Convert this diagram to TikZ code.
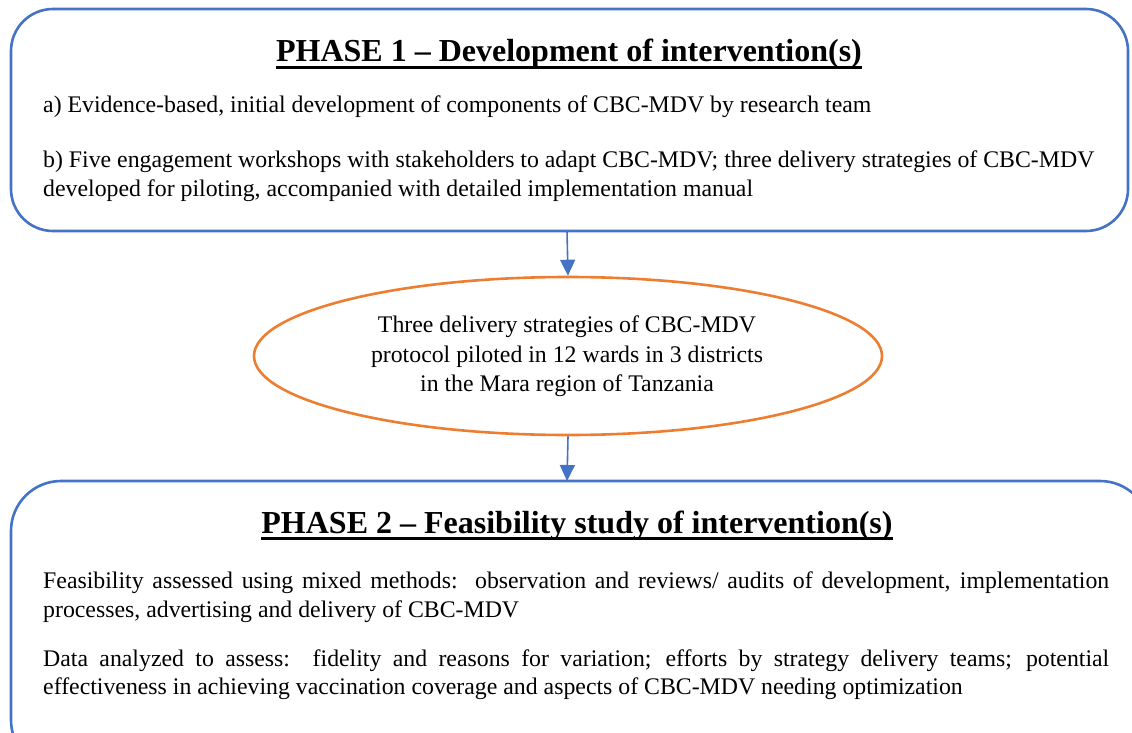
\documentclass[tikz,border=0pt]{standalone}
\usepackage{fontspec}
\setmainfont{Liberation Serif}
\usetikzlibrary{shapes.geometric,arrows.meta}
\definecolor{boxblue}{HTML}{4472C4}
\definecolor{ellorange}{HTML}{ED7D31}
\newcommand{\jline}[1]{\makebox[1066pt][s]{#1}}
\tikzset{
  phasebox/.style={draw=boxblue, line width=2.6pt, rounded corners=42pt},
  titletext/.style={inner sep=0pt, anchor=base, font=\fontsize{32}{38}\selectfont\bfseries},
  bodytext/.style={inner sep=0pt, anchor=base west, font=\fontsize{23.8}{28.5}\selectfont},
  elltext/.style={inner sep=0pt, anchor=base, font=\fontsize{23.8}{28.5}\selectfont},
  flowarrow/.style={draw=boxblue, line width=1.6pt, -{Triangle[length=16pt,width=15pt]}},
  uline/.style={line width=2.8pt}
}
\begin{document}
\begin{tikzpicture}[x=1pt,y=-1pt]
\useasboundingbox (0,0) rectangle (1132,733);
\begin{scope}
\clip (0,0) rectangle (1132,733);
% Phase 1 box
\draw[phasebox] (11,9) rectangle (1128,231);
\coordinate (p1bot) at (567,231);
% Phase 2 box
\draw[phasebox, rounded corners=50pt] (11,481) rectangle (1150,770);
\coordinate (p2top) at (567,481);
\end{scope}

\node[titletext] (t1) at (569,62) {PHASE 1 – Development of intervention(s)};
\draw[uline] ([yshift=-5.5pt]t1.base west) -- ([yshift=-5.5pt]t1.base east);

\node[bodytext] (a) at (43,113) {a) Evidence-based, initial development of components of CBC-MDV by research team};
\node[bodytext] (b1) at (43,167) {b) Five engagement workshops with stakeholders to adapt CBC-MDV; three delivery strategies of CBC-MDV};
\node[bodytext] (b2) at (43,196) {developed for piloting, accompanied with detailed implementation manual};

\node[draw=ellorange, line width=2.6pt, ellipse, minimum width=628pt, minimum height=158pt, inner sep=0pt] (ell) at (568,356) {};
\node[elltext] (e1) at (567,332) {Three delivery strategies of CBC-MDV};
\node[elltext] (e2) at (567,362) {protocol piloted in 12 wards in 3 districts};
\node[elltext] (e3) at (567,391) {in the Mara region of Tanzania};

\draw[flowarrow] (p1bot) -- (ell.north);
\draw[flowarrow] (ell.south) -- (p2top);

\node[titletext] (t2) at (577,533) {PHASE 2 – Feasibility study of intervention(s)};
\draw[uline] ([yshift=-5.5pt]t2.base west) -- ([yshift=-5.5pt]t2.base east);

\node[bodytext] (c1) at (43,588) {\jline{Feasibility assessed using mixed methods:\ \ observation and reviews/ audits of development, implementation}};
\node[bodytext] (c2) at (43,617) {processes, advertising and delivery of CBC-MDV};
\node[bodytext] (d1) at (43,666) {\jline{Data analyzed to assess:\ \ fidelity and reasons for variation; efforts by strategy delivery teams; potential}};
\node[bodytext] (d2) at (43,694) {effectiveness in achieving vaccination coverage and aspects of CBC-MDV needing optimization};
\end{tikzpicture}
\end{document}
